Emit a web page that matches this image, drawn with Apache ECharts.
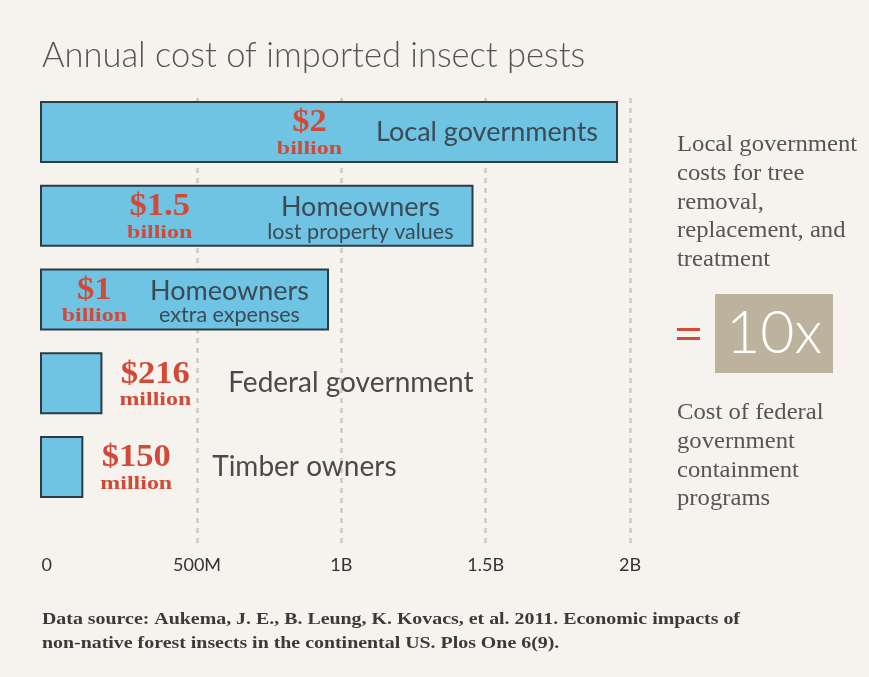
<!DOCTYPE html>
<html>
<head>
<meta charset="utf-8">
<script src="https://cdn.jsdelivr.net/npm/echarts@6/dist/echarts.min.js"></script>
<style>
html,body{margin:0;padding:0;background:#f6f3ee;}
#main{width:869px;height:677px;}
</style>
</head>
<body>
<div id="main"></div>
<script>
// ---- data ----
var categories = ['Local governments', 'Homeowners', 'Homeowners', 'Federal government', 'Timber owners'];
var subtitles = ['', 'lost property values', 'extra expenses', '', ''];
var values = [2, 1.5, 1, 0.216, 0.15]; // billions of dollars
var amountLabels = ['$2', '$1.5', '$1', '$216', '$150'];
var unitLabels = ['billion', 'billion', 'billion', 'million', 'million'];
var tickLabels = ['0', '500M', '1B', '1.5B', '2B'];
var tickValues = [0, 0.5, 1, 1.5, 2];
var titleText = 'Annual cost of imported insect pests';
var noteTop = 'Local government\ncosts for tree\nremoval,\nreplacement, and\ntreatment';
var noteMult = '10x';
var noteBottom = 'Cost of federal\ngovernment\ncontainment\nprograms';
var sourceText = 'Data source: Aukema, J. E., B. Leung, K. Kovacs, et al. 2011. Economic impacts of\nnon-native forest insects in the continental US. Plos One 6(9).';

// ---- style ----
var BG = '#f6f3ee';
var BAR = '#6fc3e3';
var RED = '#d24a37';
var SANS = 'Lato, "Open Sans", sans-serif';
var SERIF = '"Liberation Serif", "DejaVu Serif", serif';
var nameFont = '400 27px ' + SANS;
var nameFontOut = '400 28px ' + SANS;
var subFont = '400 21.5px ' + SANS;
var amtFont = 'bold 32px ' + SERIF;
var unitFont = 'bold 19px ' + SERIF;
var AMT_SX = 1.08, UNIT_SX = 1.26;
// gap between red amount block and name block (px), per bar
var labelGap = [34, 75, 23, 37, 40];

var keys = categories.map(function (c, i) { return c + (subtitles[i] ? ' – ' + subtitles[i] : ''); });

var chart = echarts.init(document.getElementById('main'), null, {renderer: 'canvas'});
var option = {
  backgroundColor: BG,
  animation: false,
  grid: [
    {left: 40, top: 90, width: 578, height: 419},
    {left: 52.7, top: 98, width: 577.3, height: 450}
  ],
  xAxis: [
    {gridIndex: 0, type: 'value', min: 0, max: 2, show: false},
    {gridIndex: 1, type: 'value', min: 0, max: 2, interval: 0.5,
     axisLine: {show: false}, axisTick: {show: false},
     axisLabel: {margin: 8, color: '#333', fontFamily: SANS, fontSize: 18,
       rich: {z: {color: '#333', fontFamily: SANS, fontSize: 18, padding: [0, 12, 0, 0]}},
       formatter: function (v) {
         var k = tickValues.indexOf(v);
         if (k < 0) return '';
         return k === 0 ? '{z|' + tickLabels[k] + '}' : tickLabels[k];
       }},
     splitLine: {show: true, lineStyle: {type: [5, 5], width: 2.5,
       color: ['rgba(0,0,0,0)', '#cbc9c4', '#cbc9c4', '#cbc9c4', '#cbc9c4']}}}
  ],
  yAxis: [
    {gridIndex: 0, type: 'category', inverse: true, data: keys, show: false},
    {gridIndex: 1, type: 'value', min: 0, max: 1, show: false}
  ],
  series: [{
    type: 'bar', xAxisIndex: 0, yAxisIndex: 0, z: 5,
    data: values, barWidth: 62,
    itemStyle: {color: BAR, borderColor: '#2c3b44', borderWidth: 2}
  }],
  graphic: []
};
chart.setOption(option);

var ctx = document.createElement('canvas').getContext('2d');
function tw(text, font) { ctx.font = font; return ctx.measureText(text).width; }

var g = [];
g.push({type: 'text', left: 42, top: 38, z: 10,
  style: {text: titleText, font: '300 34.5px ' + SANS, fill: '#555'}});

values.forEach(function (v, i) {
  var p = chart.convertToPixel({seriesIndex: 0}, [v, i]);
  var xEnd = p[0], yc = p[1];
  var inside = v >= 1;
  var nf = inside ? nameFont : nameFontOut;
  var nameW = tw(categories[i], nf);
  var subW = subtitles[i] ? tw(subtitles[i], subFont) : 0;
  var blockW = Math.max(nameW, subW);
  var redW = Math.max(tw(amountLabels[i], amtFont) * AMT_SX, tw(unitLabels[i], unitFont) * UNIT_SX);
  var nameCx, redCx, nameColor;
  if (inside) {
    var blockRight = xEnd - 20;
    nameCx = blockRight - blockW / 2;
    redCx = blockRight - blockW - labelGap[i] - redW / 2;
    nameColor = '#3b4a54';
  } else {
    redCx = xEnd + 17 + redW / 2;
    nameCx = xEnd + 17 + redW + labelGap[i] + blockW / 2;
    nameColor = '#4a4a4a';
  }
  var nameY = subtitles[i] ? yc - 8 : yc;
  g.push({type: 'text', x: nameCx, y: nameY, z: 10,
    style: {text: categories[i], font: nf, fill: nameColor, textAlign: 'center', textVerticalAlign: 'middle'}});
  if (subtitles[i]) {
    g.push({type: 'text', x: nameCx, y: yc + 16, z: 10,
      style: {text: subtitles[i], font: subFont, fill: nameColor, textAlign: 'center', textVerticalAlign: 'middle'}});
  }
  g.push({type: 'text', x: redCx, y: yc - 9, scaleX: AMT_SX, z: 10,
    style: {text: amountLabels[i], font: amtFont, fill: RED, textAlign: 'center', textVerticalAlign: 'middle'}});
  g.push({type: 'text', x: redCx, y: yc + 17, scaleX: UNIT_SX, z: 10,
    style: {text: unitLabels[i], font: unitFont, fill: RED, textAlign: 'center', textVerticalAlign: 'middle'}});
});

g.push({type: 'text', x: 677, y: 131, scaleX: 1.05, z: 10,
  style: {text: noteTop, font: '23.5px ' + SERIF, fill: '#555', lineHeight: 28.6}});
g.push({type: 'rect', shape: {x: 677, y: 328, width: 23, height: 3}, style: {fill: RED}, z: 10});
g.push({type: 'rect', shape: {x: 677, y: 337, width: 23, height: 3}, style: {fill: RED}, z: 10});
g.push({type: 'rect', shape: {x: 715, y: 294, width: 118, height: 79}, style: {fill: '#bdb29d'}, z: 10});
g.push({type: 'text', x: 774, y: 334, z: 11,
  style: {text: noteMult, font: '300 59px ' + SANS, fill: '#fff', textAlign: 'center', textVerticalAlign: 'middle'}});
g.push({type: 'text', x: 677, y: 399, scaleX: 1.05, z: 10,
  style: {text: noteBottom, font: '23.5px ' + SERIF, fill: '#555', lineHeight: 28.6}});
g.push({type: 'text', x: 42, y: 608, scaleX: 1.17, z: 10,
  style: {text: sourceText, font: 'bold 17px ' + SERIF, fill: '#3a3a3a', lineHeight: 24}});

chart.setOption({graphic: g});
</script>
</body>
</html>
